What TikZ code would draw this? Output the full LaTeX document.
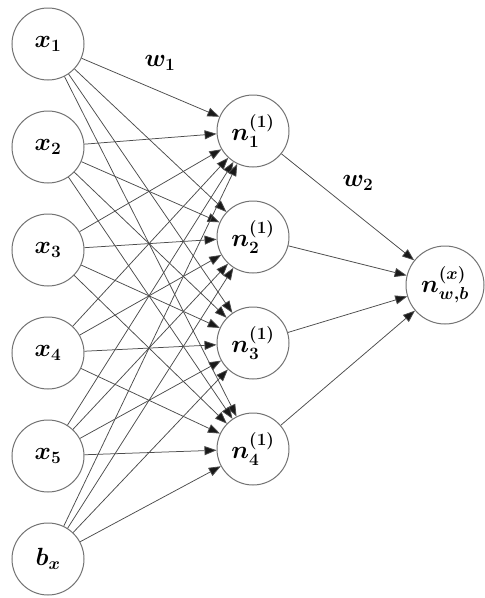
\documentclass[tikz,border=0pt]{standalone}
\usepackage{amsmath,bm}
\usetikzlibrary{arrows.meta}
\begin{document}
\begin{tikzpicture}[x=1pt,y=-1pt,
  neuron/.style={circle,draw=black!55,line width=1pt,minimum size=72pt,inner sep=0pt,font=\fontsize{24}{28}\selectfont},
  conn/.style={draw=black!70,line width=0.75pt,-{Triangle[length=12pt,width=9pt,fill=black!90]},shorten >=0pt},
  lab/.style={font=\fontsize{24}{28}\selectfont}]
\useasboundingbox[fill=white] (0,0) rectangle (485,598);
\node[neuron] (x1) at (48,44) {$\bm{x_1}$};
\node[neuron] (x2) at (48,147) {$\bm{x_2}$};
\node[neuron] (x3) at (48,250) {$\bm{x_3}$};
\node[neuron] (x4) at (48,353) {$\bm{x_4}$};
\node[neuron] (x5) at (48,456) {$\bm{x_5}$};
\node[neuron] (b) at (48,559) {$\bm{b_x}$};
\node[neuron] (n1) at (253,131) {$\bm{n_1^{(1)}}$};
\node[neuron] (n2) at (253,237) {$\bm{n_2^{(1)}}$};
\node[neuron] (n3) at (253,343) {$\bm{n_3^{(1)}}$};
\node[neuron] (n4) at (253,449) {$\bm{n_4^{(1)}}$};
\node[neuron,minimum size=78pt] (o) at (445,285) {$\bm{n_{w,b}^{(x)}}$};
\foreach \i in {x1,x2,x3,x4,x5,b}{
  \foreach \j in {n1,n2,n3,n4}{
    \draw[conn] (\i) -- (\j);
  }
}
\foreach \j in {n1,n2,n3,n4}{
  \draw[conn] (\j) -- (o);
}
\node[lab] (w1) at (160,63) {$\bm{w_1}$};
\node[lab] (w2) at (358,183) {$\bm{w_2}$};
\end{tikzpicture}
\end{document}
